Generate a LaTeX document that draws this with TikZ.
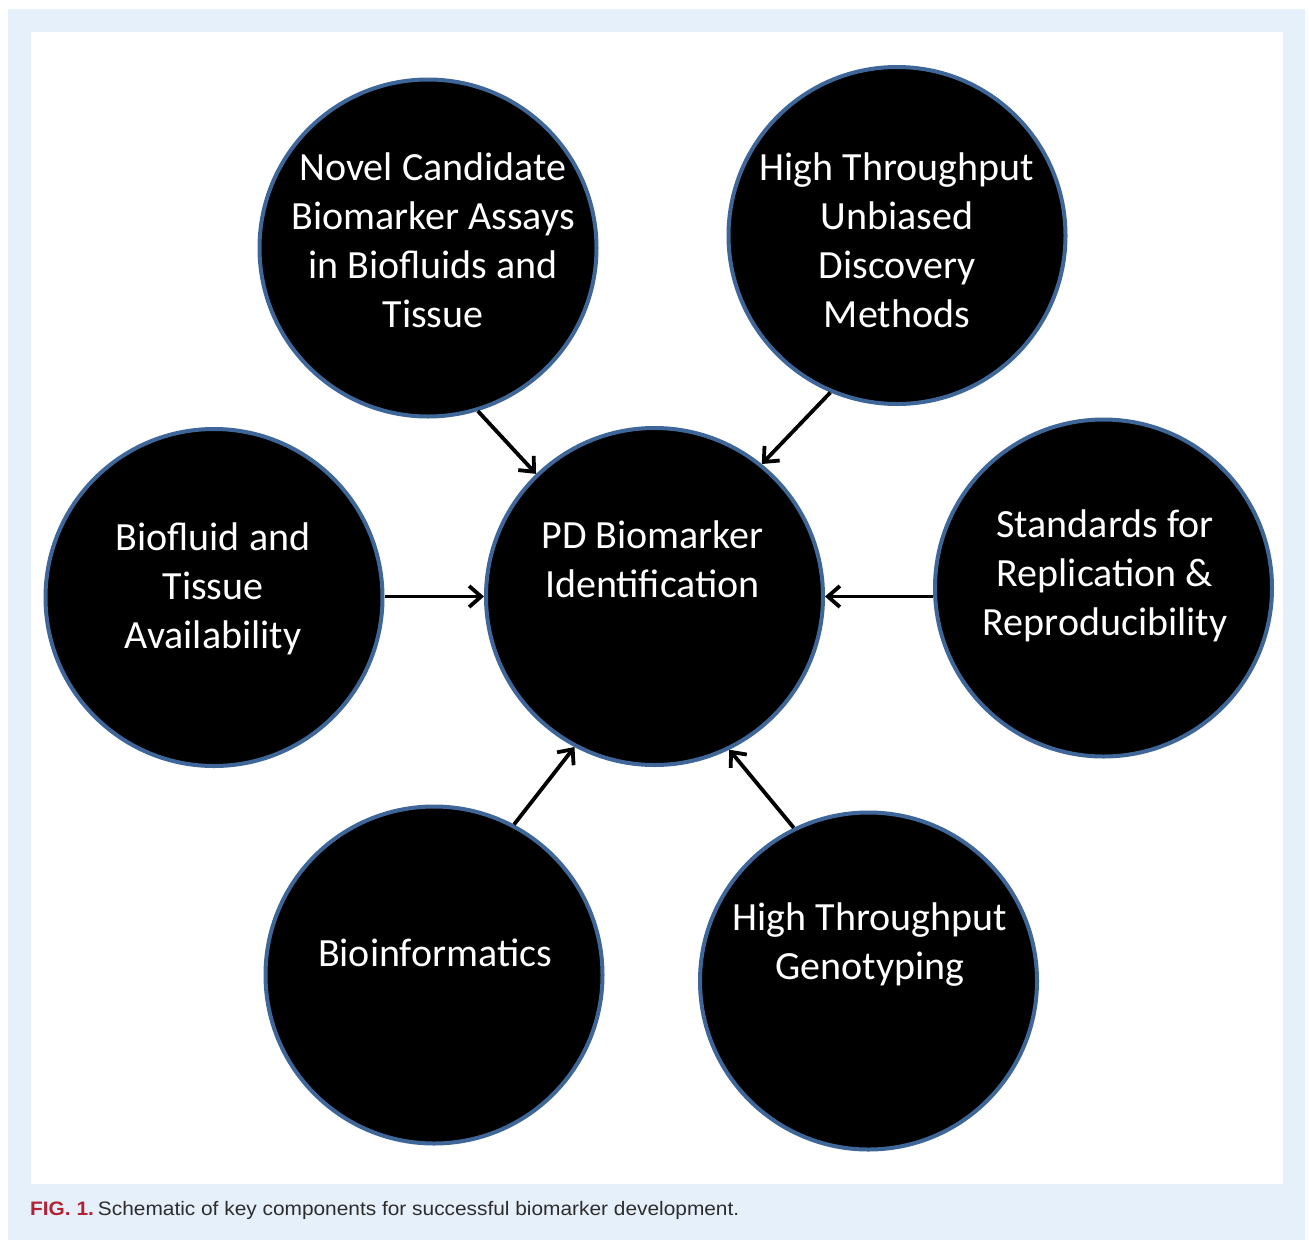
\documentclass[tikz,border=0pt]{standalone}
\usepackage{fontspec}
\setmainfont{Carlito}
\newfontfamily\capfont[FakeStretch=1.07]{Liberation Sans}
\usetikzlibrary{arrows.meta}
\definecolor{panelblue}{RGB}{230,240,250}
\definecolor{ringblue}{RGB}{62,102,152}
\definecolor{figred}{RGB}{178,34,52}
\definecolor{captext}{RGB}{45,45,45}
\begin{document}
\begin{tikzpicture}[x=1pt,y=-1pt,
  bubble/.style={circle,draw=ringblue,line width=4pt,fill=black,
    minimum size=337pt,inner sep=0pt},
  % anchor=base sits on the baseline of the last line
  bubbletext/.style={text=white,align=center,anchor=base,inner sep=0pt,
    font=\fontsize{40}{49}\selectfont},
  feed/.style={line width=3.8pt,
    -{Straight Barb[length=12pt,width=21pt,line width=3.8pt]}}]
  % frame and white panel
  \useasboundingbox (0,0) rectangle (1309,1240);
  \fill[white] (0,0) rectangle (1309,1240);
  \fill[panelblue] (8,9) rectangle (1305,1240);
  \fill[white] (31,32) rectangle (1283,1184);

  % circles
  \node[bubble] (novel) at (428,248) {};
  \node[bubble] (htu)   at (897,235.5) {};
  \node[bubble] (bio)   at (214,597.5) {};
  \node[bubble] (pd)    at (654.5,596.5) {};
  \node[bubble] (std)   at (1103.5,588) {};
  \node[bubble] (binf)  at (434,975) {};
  \node[bubble] (geno)  at (868.5,981) {};

  % circle labels
  \node[bubbletext] (novelT) at (433,327) {Novel Candidate\\Biomarker Assays\\in Biofluids and\\Tissue};
  \node[bubbletext] (htuT)   at (897,327) {High Throughput\\Unbiased\\Discovery\\Methods};
  \node[bubbletext] (bioT)   at (213,648) {Biofluid and\\Tissue\\Availability};
  \node[bubbletext] (pdT)    at (652.5,597) {PD Biomarker\\Identification};
  \node[bubbletext] (stdT)   at (1105,635) {Standards for\\Replication \&\\Reproducibility};
  \node[bubbletext] (binfT)  at (435,966) {Bioinformatics};
  \node[bubbletext] (genoT)  at (870,979) {High Throughput\\Genotyping};

  % connectors into the central circle
  \draw[feed] (novel.-73) -- (pd.134.6);
  \draw[feed] (htu.-113.5) -- (pd.51);
  \draw[feed] (pd.west -| bio.east) -- (pd.west);
  \draw[feed] (pd.east -| std.west) -- (pd.east);
  \draw[feed] (binf.62) -- (pd.-118);
  \draw[feed] (geno.116) -- (pd.-64.5);

  % caption
  \node[anchor=base west,inner sep=0pt,font=\capfont\fontsize{19.5}{22}\selectfont] (cap) at (30,1215)
    {\textcolor{figred}{\textbf{FIG. 1.}}\hspace{4pt}\textcolor{captext}{Schematic of key components for successful biomarker development.}};
\end{tikzpicture}
\end{document}
